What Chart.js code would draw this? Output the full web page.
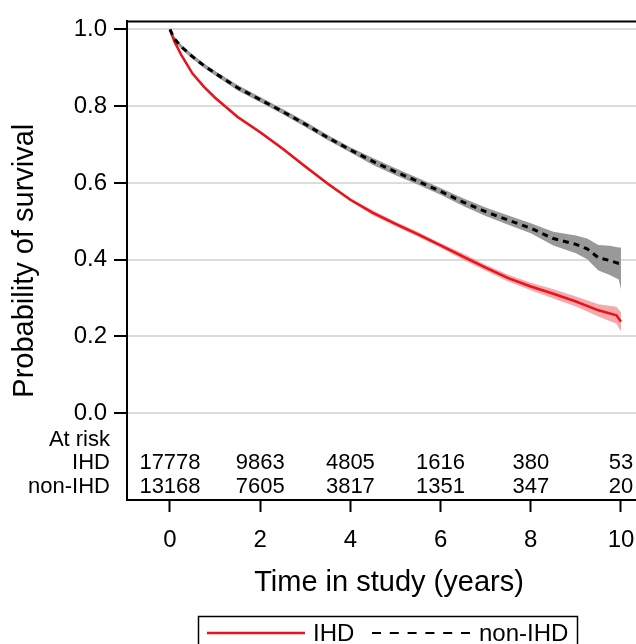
<!DOCTYPE html>
<html>
<head>
<meta charset="utf-8">
<script src="https://cdn.jsdelivr.net/npm/chart.js@4/dist/chart.umd.min.js"></script>
<style>
  html, body { margin: 0; padding: 0; background: #fff; }
  canvas { display: block; }
</style>
</head>
<body>
<canvas id="km" width="636" height="644"></canvas>
<script>
'use strict';

// Kaplan-Meier estimates (time in years)
const ihdTimes = [0, 0.1, 0.25, 0.5, 0.75, 1, 1.5, 2, 2.5, 3, 3.5, 4, 4.5, 5, 5.5, 6, 6.5, 7, 7.5, 8, 8.5, 9, 9.5, 9.9, 10];
const ihdSurv  = [1.0, 0.968, 0.934, 0.885, 0.851, 0.822, 0.772, 0.732, 0.689, 0.643, 0.598, 0.556, 0.522, 0.493, 0.466, 0.437, 0.408, 0.379, 0.352, 0.330, 0.311, 0.291, 0.268, 0.255, 0.238];
const ihdUpper = [1.0, 0.971, 0.937, 0.888, 0.854, 0.825, 0.776, 0.736, 0.693, 0.647, 0.602, 0.560, 0.528, 0.499, 0.472, 0.443, 0.416, 0.387, 0.361, 0.340, 0.323, 0.304, 0.284, 0.277, 0.263];
const ihdLower = [1.0, 0.965, 0.931, 0.882, 0.848, 0.819, 0.768, 0.728, 0.685, 0.639, 0.594, 0.552, 0.516, 0.487, 0.460, 0.431, 0.400, 0.371, 0.343, 0.320, 0.299, 0.278, 0.252, 0.233, 0.213];

const nonTimes = [0, 0.1, 0.25, 0.5, 0.75, 1, 1.5, 2, 2.5, 3, 3.5, 4, 4.5, 5, 5.5, 6, 6.5, 7, 7.5, 8, 8.5, 9, 9.25, 9.5, 9.75, 9.95, 10];
const nonSurv  = [1.0, 0.975, 0.955, 0.929, 0.906, 0.886, 0.848, 0.817, 0.786, 0.753, 0.718, 0.686, 0.656, 0.629, 0.604, 0.578, 0.550, 0.525, 0.503, 0.482, 0.455, 0.440, 0.428, 0.405, 0.398, 0.390, 0.390];
const nonUpper = [1.0, 0.981, 0.961, 0.935, 0.912, 0.892, 0.855, 0.824, 0.793, 0.760, 0.725, 0.693, 0.665, 0.638, 0.613, 0.587, 0.560, 0.536, 0.515, 0.495, 0.473, 0.463, 0.455, 0.438, 0.436, 0.432, 0.432];
const nonLower = [1.0, 0.969, 0.949, 0.923, 0.900, 0.880, 0.841, 0.810, 0.779, 0.746, 0.711, 0.679, 0.647, 0.620, 0.595, 0.569, 0.540, 0.514, 0.491, 0.469, 0.437, 0.417, 0.401, 0.372, 0.360, 0.348, 0.322];

// numbers at risk table
const riskTimes = [0, 2, 4, 6, 8, 10];
const ihdAtRisk = [17778, 9863, 4805, 1616, 380, 53];
const nonAtRisk = [13168, 7605, 3817, 1351, 347, 20];
const groupLabels = ['IHD', 'non-IHD'];

const RED = '#E8131B';
const FONT = "'Liberation Sans', Arial, sans-serif";

function points(times, values) {
  return times.map((t, i) => ({ x: t, y: values[i] }));
}

function lineSet(label, times, values, color, dash, width) {
  return {
    label,
    data: points(times, values),
    borderColor: color,
    borderWidth: width,
    borderDash: dash,
    pointRadius: 0,
    fill: false,
    tension: 0,
  };
}

function bandSet(times, values, fillTarget, color) {
  return {
    label: '',
    data: points(times, values),
    borderWidth: 0,
    borderColor: 'transparent',
    backgroundColor: color,
    pointRadius: 0,
    fill: fillTarget,
    tension: 0,
  };
}

// at-risk rows sit below zero on the y scale
const ROW_HEADER = -0.07;
const ROW_LEVELS = [-0.131, -0.193];

const tablePlugin = {
  id: 'atRiskTable',
  afterDraw(chart) {
    const { ctx, chartArea, scales: { x, y } } = chart;
    ctx.save();
    // top frame line
    ctx.strokeStyle = '#000';
    ctx.lineWidth = 2;
    ctx.beginPath();
    ctx.moveTo(chartArea.left - 1, chartArea.top);
    ctx.lineTo(chartArea.right, chartArea.top);
    ctx.stroke();

    ctx.fillStyle = '#000';
    ctx.font = `22px ${FONT}`;
    ctx.textBaseline = 'middle';
    ctx.textAlign = 'right';
    const labelX = chartArea.left - 17;
    ctx.fillText('At risk', labelX, y.getPixelForValue(ROW_HEADER));
    [ihdAtRisk, nonAtRisk].forEach((row, r) => {
      const py = y.getPixelForValue(ROW_LEVELS[r]);
      ctx.textAlign = 'right';
      ctx.fillText(groupLabels[r], labelX, py);
      ctx.textAlign = 'center';
      row.forEach((n, i) => {
        ctx.fillText(String(n), x.getPixelForValue(riskTimes[i]), py);
      });
    });

    // x axis title (original frame runs past the right edge, so centre by hand)
    ctx.font = `29px ${FONT}`;
    ctx.textAlign = 'center';
    ctx.fillText('Time in study (years)', 389, 583);

    // legend box
    ctx.lineWidth = 1.5;
    ctx.strokeRect(198.5, 616.5, 379, 40);
    ctx.font = `24px ${FONT}`;
    ctx.textAlign = 'left';
    ctx.lineWidth = 2.5;
    ctx.strokeStyle = RED;
    ctx.beginPath();
    ctx.moveTo(207, 633);
    ctx.lineTo(305, 633);
    ctx.stroke();
    ctx.fillText(groupLabels[0], 313, 634);
    ctx.strokeStyle = '#000';
    ctx.lineWidth = 2;
    ctx.setLineDash([9, 8.8]);
    ctx.beginPath();
    ctx.moveTo(372, 633);
    ctx.lineTo(470, 633);
    ctx.stroke();
    ctx.setLineDash([]);
    ctx.fillText(groupLabels[1], 479, 634);
    ctx.restore();
  },
};

Chart.defaults.font.family = FONT;
Chart.defaults.color = '#000';

new Chart(document.getElementById('km'), {
  type: 'line',
  data: {
    datasets: [
      lineSet('non-IHD', nonTimes, nonSurv, '#000', [6, 5], 3),
      lineSet('IHD', ihdTimes, ihdSurv, RED, [], 2.5),
      bandSet(nonTimes, nonUpper, '+1', '#999999'),
      bandSet(nonTimes, nonLower, false, '#999999'),
      bandSet(ihdTimes, ihdUpper, '+1', 'rgba(240, 110, 115, 0.6)'),
      bandSet(ihdTimes, ihdLower, false, 'rgba(240, 110, 115, 0.6)'),
    ],
  },
  options: {
    responsive: false,
    devicePixelRatio: 1,
    animation: false,
    layout: { padding: { top: 15, right: 0, left: 0, bottom: 0 } },
    plugins: {
      legend: { display: false },
      tooltip: { enabled: false },
    },
    scales: {
      x: {
        type: 'linear',
        min: -0.953,
        max: 10.333,
        afterFit: scale => {
          scale.height = 144;
          scale.paddingLeft = 0;
          scale.paddingRight = 0;
        },
        border: { display: true, color: '#000', width: 2 },
        grid: { drawOnChartArea: false, drawTicks: true, tickLength: 12, tickColor: '#000', tickWidth: 2 },
        ticks: {
          stepSize: 2,
          includeBounds: false,
          padding: 14,
          font: { size: 24 },
          maxRotation: 0,
          callback: value => String(value),
        },
      },
      y: {
        type: 'linear',
        min: -0.2264,
        max: 1.021,
        afterFit: scale => { scale.width = 127; },
        afterBuildTicks: scale => {
          scale.ticks = scale.ticks.filter(t => t.value > -0.01 && t.value < 1.01);
        },
        border: { display: true, color: '#000', width: 2 },
        grid: { color: '#dcdcdc', lineWidth: 2, drawTicks: true, tickLength: 13, tickColor: '#000', tickWidth: 2 },
        ticks: {
          stepSize: 0.2,
          includeBounds: false,
          padding: 7,
          font: { size: 24 },
          callback: value => Number(value).toFixed(1),
        },
        title: {
          display: true,
          text: 'Probability of survival',
          font: { size: 29 },
          padding: { top: 8, bottom: 0 },
        },
      },
    },
  },
  plugins: [tablePlugin],
});
</script>
</body>
</html>
